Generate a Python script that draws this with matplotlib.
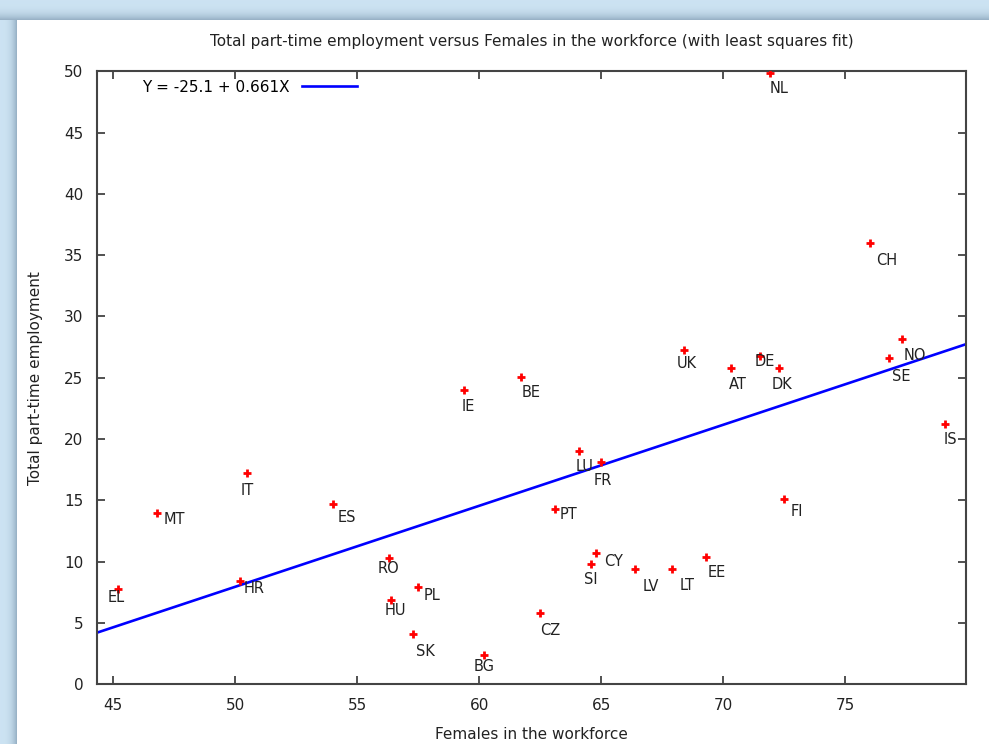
import numpy as np
import matplotlib
matplotlib.use('Agg')
import matplotlib.pyplot as plt

# datos: pais, mujeres en la fuerza laboral, empleo a tiempo parcial total
paises = ['NL', 'CH', 'NO', 'SE', 'UK', 'DE', 'AT', 'DK', 'BE', 'IE', 'IS',
          'LU', 'FR', 'IT', 'FI', 'ES', 'PT', 'MT', 'CY', 'EE', 'RO', 'SI',
          'LV', 'LT', 'HR', 'PL', 'EL', 'HU', 'CZ', 'SK', 'BG']
mujeres = [71.9, 76.0, 77.3, 76.8, 68.4, 71.5, 70.3, 72.3, 61.7, 59.4, 79.1,
           64.1, 65.0, 50.5, 72.5, 54.0, 63.1, 46.8, 64.8, 69.3, 56.3, 64.6,
           66.4, 67.9, 50.2, 57.5, 45.2, 56.4, 62.5, 57.3, 60.2]
parcial = [49.9, 36.0, 28.2, 26.6, 27.3, 26.8, 25.8, 25.8, 25.1, 24.0, 21.2,
           19.0, 18.1, 17.2, 15.1, 14.7, 14.3, 14.0, 10.7, 10.4, 10.3, 9.8,
           9.4, 9.4, 8.4, 7.9, 7.8, 6.9, 5.8, 4.1, 2.4]

# ajuste de minimos cuadrados (del grafico original)
intercepto = -25.1
pendiente = 0.661

# desplazamiento de cada etiqueta en pixeles (dx, dy)
desplaz = {'NL': (9, -16), 'CH': (17, -18), 'NO': (13, -17), 'SE': (12, -18),
           'UK': (3, -14), 'DE': (5, -6), 'AT': (7, -17), 'DK': (3, -17),
           'BE': (10, -16), 'IE': (4, -16), 'IS': (5, -15), 'LU': (5, -15),
           'FR': (2, -18), 'IT': (0, -17), 'FI': (13, -12), 'ES': (14, -13),
           'PT': (14, -6), 'MT': (17, -7), 'CY': (17, -8), 'EE': (11, -16),
           'RO': (0, -10), 'SI': (-1, -15), 'LV': (15, -17), 'LT': (15, -16),
           'HR': (14, -7), 'PL': (14, -8), 'EL': (-2, -9), 'HU': (4, -11),
           'CZ': (10, -17), 'SK': (12, -17), 'BG': (0, -12)}

fig = plt.figure(figsize=(9.89, 7.44), dpi=100)

# fondo tipo ventana
fondo = fig.add_axes([0, 0, 1, 1], zorder=-10)
fondo.axis('off')
alto, ancho = 744, 989
img = np.ones((alto, ancho, 3))
azul = np.array([0.80, 0.89, 0.95])
oscuro = np.array([0.60, 0.70, 0.78])
for j in range(20):
    t = j / 19
    img[j, :, :] = azul * (1 - t ** 3) + oscuro * t ** 3
for i in range(17):
    t = i / 16
    img[20:, i, :] = azul * (1 - t ** 3) + oscuro * t ** 3
fondo.imshow(img, extent=[0, 1, 0, 1], aspect='auto')
fondo.set_xlim(0, 1)
fondo.set_ylim(0, 1)

ax = fig.add_axes([0.0984, 0.0802, 0.8783, 0.8240])
ax.set_facecolor('white')

xmin, xmax = 44.36, 79.94
xs = np.array([xmin, xmax])
ax.plot(xs, intercepto + pendiente * xs, color='#0000ff', lw=1.9,
        label='Y = -25.1 + 0.661X', zorder=2)
ax.plot(mujeres, parcial, linestyle='none', marker='+', color='#ff0000',
        markersize=6, markeredgewidth=2.0, zorder=3)

for p, x, y in zip(paises, mujeres, parcial):
    dx, dy = desplaz[p]
    ax.annotate(p, (x, y), xytext=(dx, dy), textcoords='offset pixels',
                ha='center', va='center', fontsize=10.5, color='#222222')

ax.set_xlim(xmin, xmax)
ax.set_ylim(0, 50)
ax.set_xticks([45, 50, 55, 60, 65, 70, 75])
ax.set_yticks(range(0, 51, 5))
ax.tick_params(direction='in', length=6, width=1.2, top=True, right=True,
               labelsize=11, colors='#333333', labelcolor='#222222', pad=10)
for s in ax.spines.values():
    s.set_color('#444444')
    s.set_linewidth(1.5)

ax.set_xlabel('Females in the workforce', fontsize=11, color='#222222', labelpad=10)
ax.set_ylabel('Total part-time employment', fontsize=11, color='#222222', labelpad=15)
ax.set_title('Total part-time employment versus Females in the workforce (with least squares fit)',
             fontsize=11, color='#222222', pad=18)

ax.legend(loc='upper left', bbox_to_anchor=(0.037, 1.006), frameon=False,
          markerfirst=False, handlelength=3.6, fontsize=11, borderpad=0.3)

fig.savefig('out.png', dpi=100)
